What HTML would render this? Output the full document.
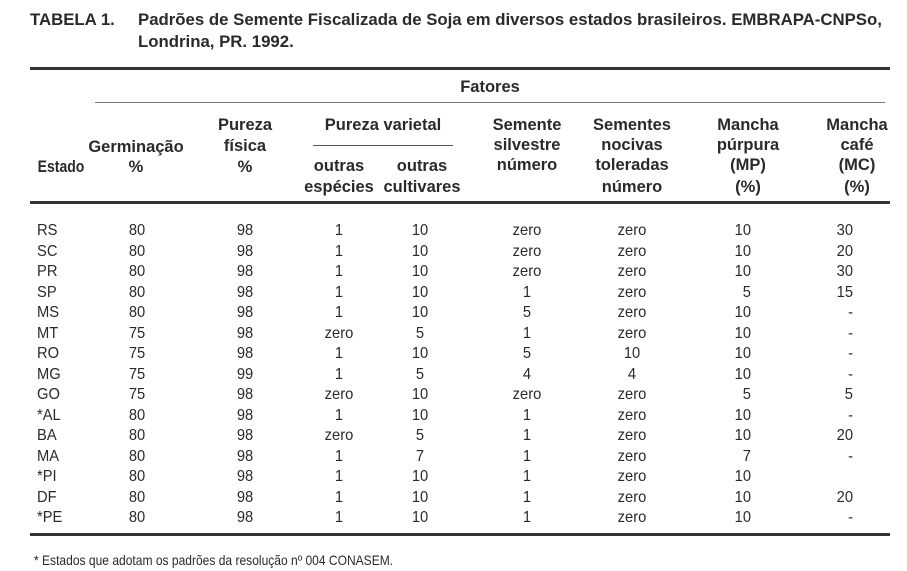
<!DOCTYPE html>
<html><head><meta charset="utf-8"><style>
body{margin:0;width:907px;height:571px;background:#fff;position:relative;overflow:hidden;font-family:"Liberation Sans",sans-serif;color:#2a2a2a}
.t{position:absolute;white-space:nowrap;font-size:16px;line-height:18px;transform:translate(-50%,-50%) scaleX(.92)}
.h{font-weight:bold;font-size:16.5px;transform:translate(-50%,-50%)}
.l{transform:translate(0,-50%) scaleX(.92);transform-origin:left center}
.r{transform:translate(-100%,-50%) scaleX(.92);transform-origin:right center}
.ti{font-weight:bold;font-size:16.8px;transform:translate(0,-50%)}
.hr{position:absolute;background:#333}
</style></head><body>
<div class="t ti" style="left:30px;top:20px">TABELA 1.</div>
<div class="t ti" style="left:138px;top:20px">Padrões de Semente Fiscalizada de Soja em diversos estados brasileiros. EMBRAPA-CNPSo,</div>
<div class="t ti" style="left:138px;top:42px">Londrina, PR. 1992.</div>
<div class="hr" style="left:30px;top:67px;width:860px;height:3px"></div>
<div class="t h" style="left:490px;top:87px">Fatores</div>
<div class="hr" style="left:95px;top:102px;width:790px;height:1px;background:#777"></div>
<div class="hr" style="left:313px;top:145px;width:140px;height:1px;background:#555"></div>
<div class="hr" style="left:30px;top:201px;width:860px;height:3px"></div>
<div class="hr" style="left:30px;top:533px;width:860px;height:3px"></div>
<div id="h"></div>
<div class="t l" style="left:34px;top:560px;font-size:14px;transform:translate(0,-50%) scaleX(.86)">* Estados que adotam os padrões da resolução nº 004 CONASEM.</div>
<script>
var H=[["Estado",61,167],["Germinação",136,147],["%",136,167],["Pureza",245,125],["física",245,146],["%",245,167],["Pureza varietal",383,125],["outras",339,166],["espécies",339,187],["outras",422,166],["cultivares",422,187],["Semente",527,125],["silvestre",527,145],["número",527,165],["Sementes",632,125],["nocivas",632,145],["toleradas",632,165],["número",632,187],["Mancha",748,125],["púrpura",748,145],["(MP)",748,165],["(%)",748,187],["Mancha",857,125],["café",857,145],["(MC)",857,165],["(%)",857,187]];
var R=[["RS",80,98,1,10,"zero","zero",10,30],["SC",80,98,1,10,"zero","zero",10,20],["PR",80,98,1,10,"zero","zero",10,30],["SP",80,98,1,10,1,"zero",5,15],["MS",80,98,1,10,5,"zero",10,"-"],["MT",75,98,"zero",5,1,"zero",10,"-"],["RO",75,98,1,10,5,10,10,"-"],["MG",75,99,1,5,4,4,10,"-"],["GO",75,98,"zero",10,"zero","zero",5,5],["*AL",80,98,1,10,1,"zero",10,"-"],["BA",80,98,"zero",5,1,"zero",10,20],["MA",80,98,1,7,1,"zero",7,"-"],["*PI",80,98,1,10,1,"zero",10,""],["DF",80,98,1,10,1,"zero",10,20],["*PE",80,98,1,10,1,"zero",10,"-"]];
var s="";
H.forEach(function(h){var st=h[0]=="Estado"?'transform:translate(-50%,-50%) scaleX(.85);':'';s+='<div class="t h" style="'+st+'left:'+h[1]+'px;top:'+h[2]+'px">'+h[0]+'</div>';});
var X=[0,137,245,339,420,527,632,751,853];
R.forEach(function(r,i){var y=231+i*20.5;
s+='<div class="t l" style="left:37px;top:'+y+'px">'+r[0]+'</div>';
for(var j=1;j<9;j++){var c=j>=7?'t r':'t';s+='<div class="'+c+'" style="left:'+X[j]+'px;top:'+y+'px">'+r[j]+'</div>';}
});
document.getElementById('h').innerHTML=s;
</script>
</body></html>
